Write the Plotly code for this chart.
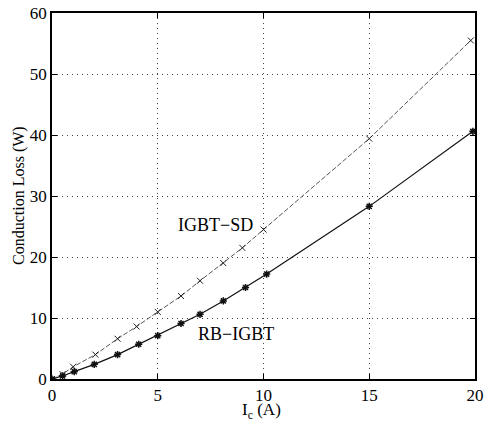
import plotly.graph_objects as go

# IGBT-SD (dashed line, x markers)
sd_x = [0, 0.5, 1, 2.05, 3.1, 4.0, 5.0, 6.1, 7.0, 8.1, 9.0, 10.0, 15.0, 19.8]
sd_y = [0, 0.8, 2.0, 4.0, 6.6, 8.6, 11.0, 13.6, 16.1, 19.0, 21.5, 24.5, 39.4, 55.5]

# RB-IGBT (solid line, asterisk markers)
rb_x = [0, 0.5, 1.05, 2.0, 3.1, 4.1, 5.0, 6.1, 7.0, 8.1, 9.15, 10.15, 15.0, 19.9]
rb_y = [0, 0.5, 1.2, 2.4, 4.0, 5.7, 7.1, 9.1, 10.6, 12.8, 15.0, 17.2, 28.3, 40.6]

x_ticks = [0, 5, 10, 15, 20]
y_ticks = [0, 10, 20, 30, 40, 50, 60]

font_family = "Liberation Serif"

fig = go.Figure()
fig.add_trace(go.Scatter(
    x=sd_x, y=sd_y, mode="lines+markers", name="IGBT-SD",
    line=dict(color="#555555", width=1, dash="5px,2px"),
    marker=dict(symbol="x-thin-open", size=6, color="#222222", line=dict(width=1, color="#222222")),
))
fig.add_trace(go.Scatter(
    x=rb_x, y=rb_y, mode="lines+markers", name="RB-IGBT",
    line=dict(color="#111111", width=1.2),
    marker=dict(symbol="asterisk-open", size=6, color="#111111", line=dict(width=1.5, color="#111111")),
))

fig.add_annotation(x=7.75, y=25.2, text="IGBT\u2212SD", showarrow=False,
                   font=dict(family=font_family, size=18, color="black"))
fig.add_annotation(x=8.7, y=7.3, text="RB\u2212IGBT", showarrow=False,
                   font=dict(family=font_family, size=18, color="black"))

# axis titles
fig.add_annotation(x=0.496, y=0, xref="paper", yref="paper", yshift=-32,
                   xanchor="center", yanchor="middle",
                   text="I<sub>c</sub> (A)", showarrow=False,
                   font=dict(family=font_family, size=17, color="black"))
fig.add_annotation(x=0, y=0.5, xref="paper", yref="paper", xshift=-33,
                   xanchor="center", yanchor="middle",
                   text="Conduction Loss (W)", textangle=-90, showarrow=False,
                   font=dict(family=font_family, size=16, color="black"))

axis_common = dict(
    showline=True, linecolor="black", linewidth=1.5, mirror="ticks",
    ticks="inside", ticklen=5, tickcolor="black", tickwidth=1,
    showgrid=True, gridcolor="#444444", gridwidth=1, griddash="1px,4px",
    zeroline=False, automargin=False, ticklabeloverflow="allow",
    tickfont=dict(family=font_family, size=17, color="black"),
)

fig.update_xaxes(range=[0, 20], tickvals=x_ticks, **axis_common)
fig.update_yaxes(range=[0, 60], tickvals=y_ticks, **axis_common)

fig.update_layout(
    width=484, height=425,
    margin=dict(l=52, r=9, t=13, b=46),
    plot_bgcolor="white", paper_bgcolor="white",
    showlegend=False,
)

# remove the default 8px page margin so the figure fills the window exactly
fig.write_html("out.html",
               config={"displayModeBar": False},
               post_script="document.body.style.margin='0';document.body.style.overflow='hidden';")
